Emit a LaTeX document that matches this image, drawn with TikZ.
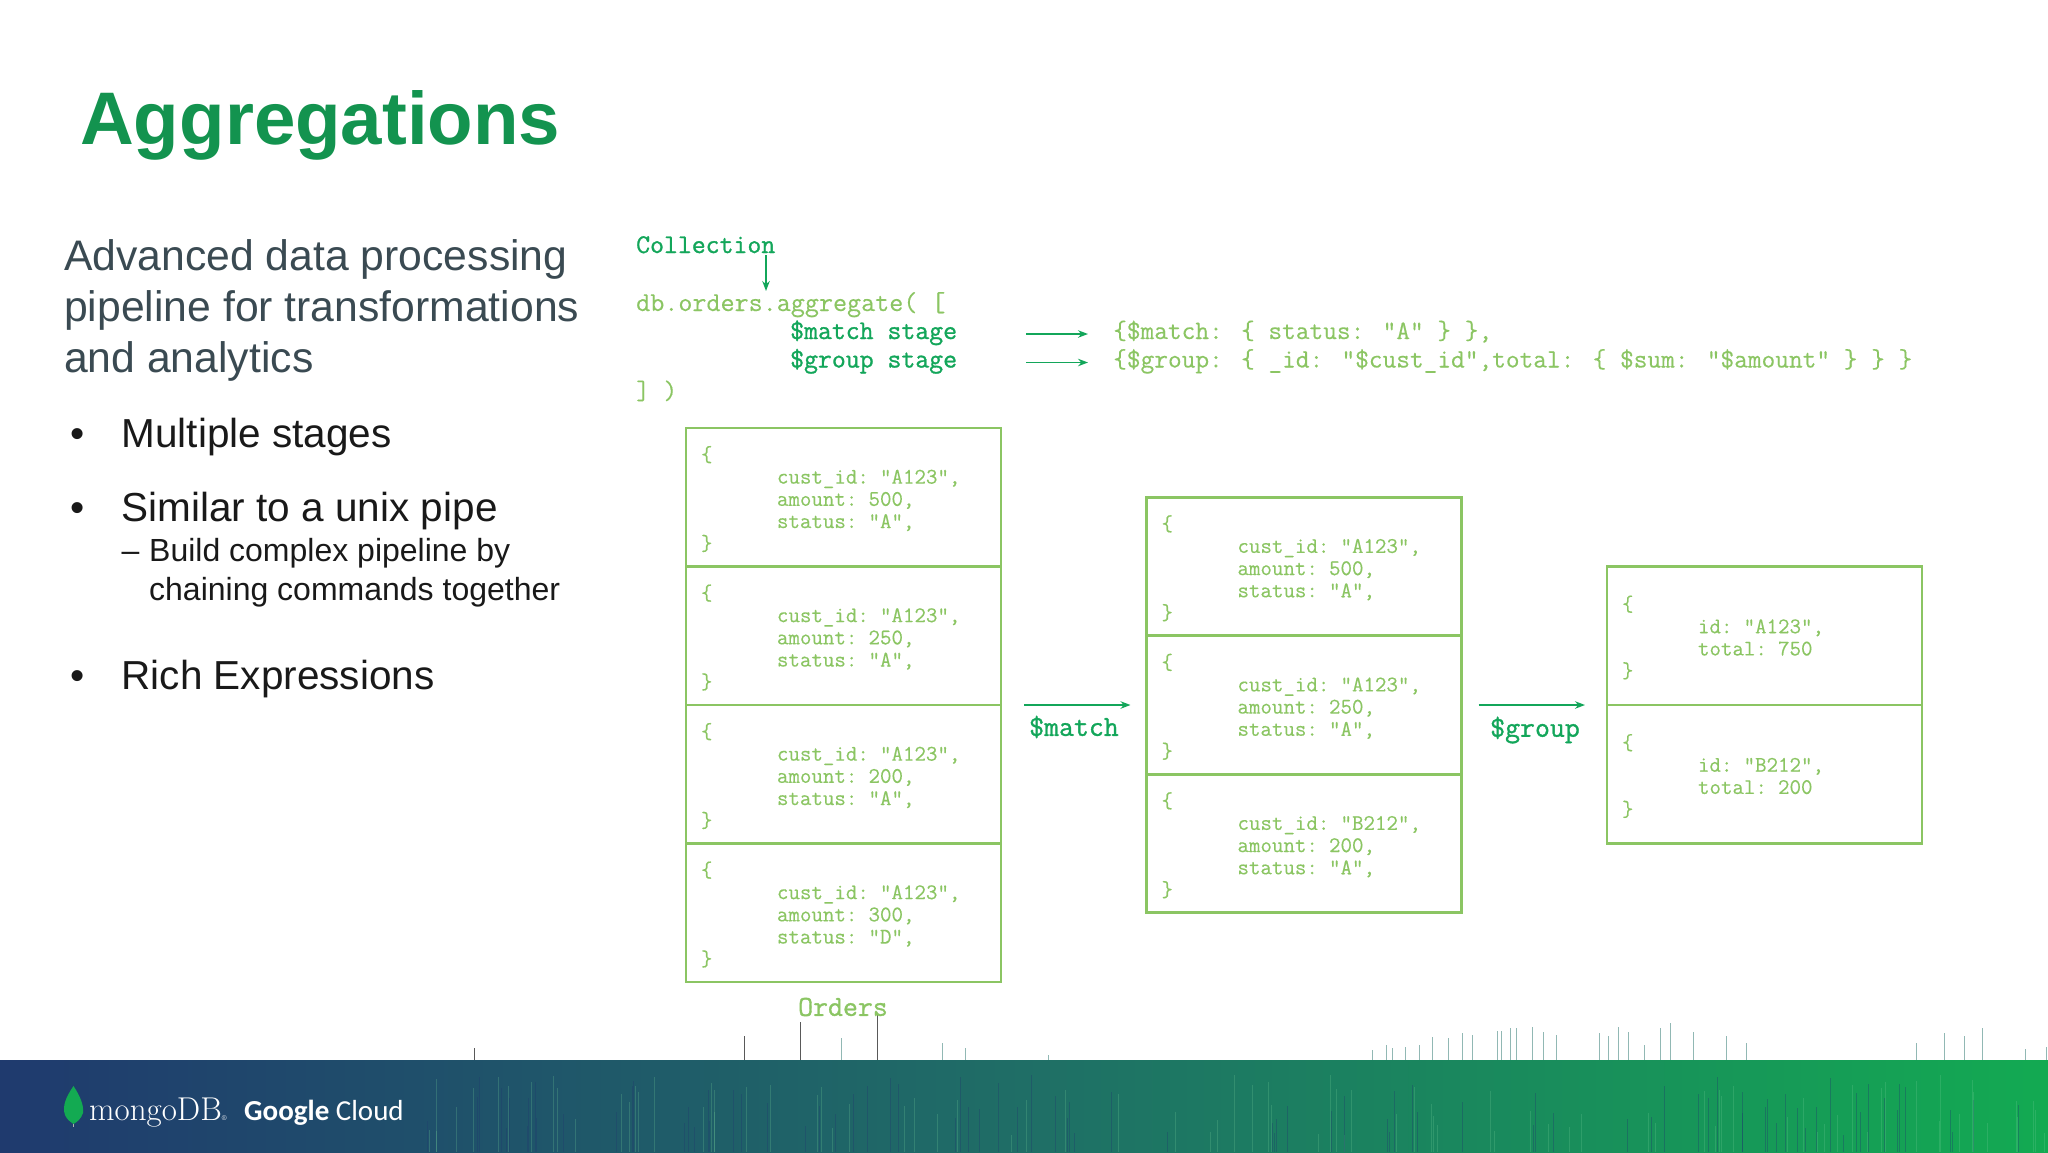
\documentclass[tikz,border=0pt]{standalone}
\usepackage{fontspec}
\setmainfont{Liberation Sans}
\newfontfamily\logofont{Latin Modern Roman}
\newfontfamily\cloudfont{Carlito}
\newfontfamily\codefont[FakeBold=0.35]{Latin Modern Mono}
\newfontfamily\stagefont[FakeBold=1.1]{Latin Modern Mono}
\usetikzlibrary{arrows.meta}

\definecolor{titlegreen}{HTML}{13934F}
\definecolor{codegreen}{HTML}{8BC563}
\definecolor{stagegreen}{HTML}{13A65A}
\definecolor{bodygrey}{HTML}{3A4A52}
\definecolor{bandblue}{HTML}{1F3A6E}
\definecolor{bandteal}{HTML}{1F6E66}
\definecolor{bandgreen}{HTML}{13AA52}

\tikzset{
    bodytext/.style={anchor=base west, inner sep=0pt, text=bodygrey, font=\fontsize{42.7}{43}\selectfont},
    bullettext/.style={anchor=base west, inner sep=0pt, text=black!90, font=\fontsize{40.5}{42}\selectfont},
    subtext/.style={anchor=base west, inner sep=0pt, text=black!90, font=\fontsize{32}{33}\selectfont},
    codetext/.style={anchor=west, inner sep=0pt, text height=15pt, text depth=5pt, text=codegreen, font=\codefont\fontsize{26.6}{28}\selectfont},
    stagetext/.style={codetext, text=stagegreen, font=\stagefont\fontsize{27}{28}\selectfont},
    steplabel/.style={inner sep=0pt, text=stagegreen, font=\stagefont\fontsize{29}{30}\selectfont},
    recbox/.style={draw=codegreen, line width=2.6pt, anchor=north west, outer sep=0pt, minimum width=315pt, minimum height=138.5pt,
        inner xsep=15pt, inner ysep=0pt, text width=285pt, align=left, text=codegreen,
        font=\codefont\fontsize{22.3}{22.2}\selectfont},
    flowarrow/.style={draw=stagegreen, line width=1.5pt, -{Stealth[length=10pt,width=7.5pt]}},
}

\begin{document}
\begin{tikzpicture}[x=1pt,y=-1pt]
    \useasboundingbox (0,0) rectangle (2048,1152);

    % band
    \shade[left color=bandblue, right color=bandteal] (0,1060) rectangle (1024,1152);
    \shade[left color=bandteal, right color=bandgreen] (1024,1060) rectangle (2048,1152);

    % streaks inside the band
    \pgfmathsetseed{11}
    \foreach \i in {1,...,170} {
        \pgfmathsetmacro{\sx}{420+random(0,1628)}
        \pgfmathsetmacro{\sy}{1075+random(0,60)}
        \pgfmathsetmacro{\so}{ifthenelse(mod(\i,2)==0,0.35,0.25)}
        \ifodd\i
            \draw[bandgreen!60!white, line width=0.9pt, opacity=\so] (\sx,\sy) -- (\sx,1152);
        \else
            \draw[bandblue, line width=0.9pt, opacity=\so] (\sx,\sy) -- (\sx,1152);
        \fi
    }

    % spikes above the band
    \foreach \sx/\sy in {474/1048,744/1036,800/1022,877/1015} {
        \draw[black!65, line width=1pt] (\sx,1060) -- (\sx,\sy);
    }
    \foreach \sx/\sy in {841/1038,942/1043,965/1048,1048/1055,1372/1050,1386/1045,1392/1048,1405/1047,1419/1045,
        1432/1037,1448/1038,1462/1033,1472/1035,1497/1031,1501/1031,1510/1028,1516/1028,1532/1027,1543/1032,1556/1035,
        1599/1033,1608/1036,1618/1027,1628/1032,1644/1045,1660/1028,1670/1023,1693/1032,1726/1036,1746/1043,
        1916/1043,1944/1033,1964/1036,1982/1028,2025/1049,2046/1047} {
        \draw[bandteal!70!white, line width=1pt, opacity=0.7] (\sx,1060) -- (\sx,\sy);
    }

    % logo
    \draw[white!70!black, line width=1.2pt] (73.5,1118) -- (73.5,1127);
    \fill[bandgreen] (73.5,1086) .. controls (66,1097) and (62,1106) .. (65,1115) .. controls (67,1120) and (71,1122) .. (73.5,1124) .. controls (77,1122) and (81,1119) .. (83,1113) .. controls (84,1105) and (80,1096) .. (73.5,1086);
    \node[anchor=base west, inner sep=0pt, text=white, font=\logofont\fontsize{33}{33}\selectfont] (mongologo) at (89,1120) {mongoDB{\fontsize{7}{7}\selectfont\textregistered}};
    \node[anchor=base west, inner sep=0pt, text=white, font=\cloudfont\fontsize{29}{30}\selectfont] (cloudlogo) at (244,1120) {\textbf{Google} Cloud};

    % title
    \node[anchor=base west, inner sep=0pt, text=titlegreen, font=\bfseries\fontsize{74.5}{77}\selectfont] (title) at (80,144) {Aggregations};

    % left text
    \node[bodytext] (introa) at (64,270) {Advanced data processing};
    \node[bodytext] (introb) at (64,321) {pipeline for transformations};
    \node[bodytext] (introc) at (64,372.5) {and analytics};
    \node[bullettext] (bulleta) at (70,447) {•};
    \node[bullettext] (itema) at (121.5,447) {Multiple stages};
    \node[bullettext] (bulletb) at (70,521) {•};
    \node[bullettext] (itemb) at (121.5,521) {Similar to a unix pipe};
    \node[subtext] (dash) at (121.5,561) {–};
    \node[subtext] (suba) at (149,561) {Build complex pipeline by};
    \node[subtext] (subb) at (149,600) {chaining commands together};
    \node[bullettext] (bulletc) at (70,689) {•};
    \node[bullettext] (itemc) at (121.5,689) {Rich Expressions};

    % query
    \node[stagetext] (collection) at (636,248) {Collection};
    \node[codetext, font=\codefont\fontsize{27.3}{28}\selectfont] (dbline) at (636,306) {db.orders.aggregate( [};
    \node[stagetext] (stagematch) at (790,334) {\$match stage};
    \node[stagetext] (stagegroup) at (790,362.5) {\$group stage};
    \node[codetext] (codematch) at (1113,334) {\{\$match: \{ status: "A" \} \},};
    \node[codetext] (codegroup) at (1113,362.5) {\{\$group: \{ \_id: "\$cust\_id",total: \{ \$sum: "\$amount" \} \} \}};
    \node[codetext] (dbend) at (636,394) {] )};

    \coordinate (collstart) at (766,255);
    \coordinate (collend) at (766,291);
    \draw[flowarrow] (collstart) -- (collend);
    \draw[flowarrow, shorten <=69pt, shorten >=25pt] (stagematch.east) -- (codematch.west);
    \draw[flowarrow, shorten <=69pt, shorten >=25pt] (stagegroup.east) -- (codegroup.west);

    % orders
    \foreach \recname/\recy/\custid/\amt/\stat in {ordera/428/A123/500/A,orderb/566.5/A123/250/A,orderc/705/A123/200/A,orderd/843.5/A123/300/D} {
        \node[recbox] (\recname) at (686,\recy) {\rule{0pt}{19pt}\{\\\hspace*{76pt}cust\_id: "\custid",\\\hspace*{76pt}amount: \amt,\\\hspace*{76pt}status: "\stat",\\\}};
    }
    \node[steplabel, text=codegreen, font=\stagefont\fontsize{29}{30}\selectfont] (orderslabel) at (843,1007) {Orders};

    % after match
    \foreach \recname/\recy/\custid/\amt in {matcha/497.25/A123/500,matchb/635.75/A123/250,matchc/774.25/B212/200} {
        \node[recbox] (\recname) at (1146.5,\recy) {\rule{0pt}{19pt}\{\\\hspace*{76pt}cust\_id: "\custid",\\\hspace*{76pt}amount: \amt,\\\hspace*{76pt}status: "A",\\\}};
    }

    % after group
    \foreach \recname/\recy/\custid/\amt in {groupa/566.5/A123/750,groupb/705/B212/200} {
        \node[recbox] (\recname) at (1607,\recy) {\rule{0pt}{19pt}\{\\\hspace*{76pt}id: "\custid",\\\hspace*{76pt}total: \amt\\\}};
    }

    % stage arrows
    \draw[flowarrow, shorten <=23pt, shorten >=16pt] (orderb.south east) -- (matchb.west);
    \draw[flowarrow, shorten <=17pt, shorten >=22pt] (matchb.east) -- (groupa.south west);
    \node[steplabel] (matchlabel) at (1074,727) {\$match};
    \node[steplabel] (grouplabel) at (1535,730) {\$group};
\end{tikzpicture}
\end{document}
